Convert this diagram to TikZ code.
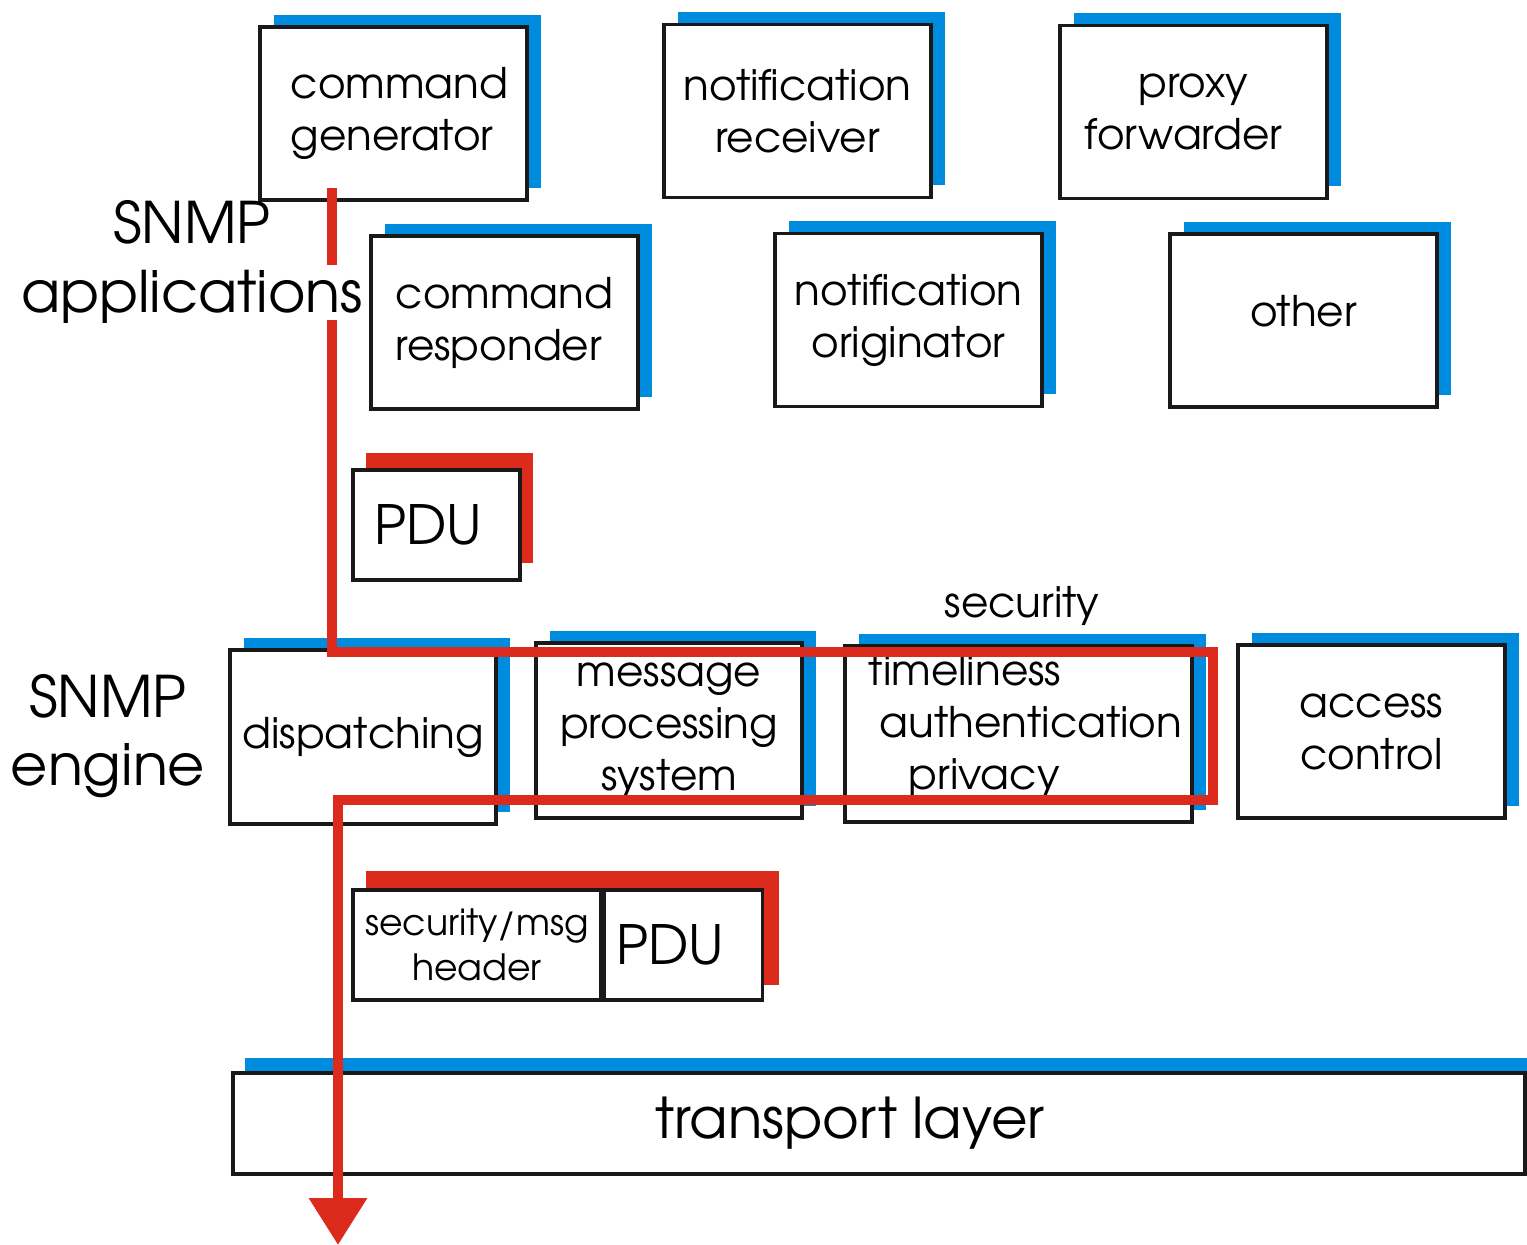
\documentclass[tikz,border=0pt]{standalone}
\usepackage{fontspec}
\setmainfont{TeX Gyre Adventor}
\usetikzlibrary{shadows,arrows.meta,backgrounds}
\definecolor{snmpblue}{RGB}{0,140,222}
\definecolor{snmpred}{RGB}{220,42,28}
\begin{document}
\begin{tikzpicture}[
    box/.style={draw=black!90, line width=1pt, fill=white, inner sep=0pt,
        minimum width=2.67cm, minimum height=1.73cm, align=center,
        font=\fontsize{12}{14.8}\selectfont,
        copy shadow={shadow xshift=0.14cm, shadow yshift=0.12cm, fill=snmpblue, draw=none}},
    pdubox/.style={draw=black!90, line width=1pt, fill=white, inner sep=0pt,
        minimum height=1.1cm, font=\fontsize{15.4}{17}\selectfont},
    flow/.style={snmpred, line width=2.8pt},
    biglabel/.style={font=\fontsize{16.3}{19.4}\selectfont, align=center}
]
\useasboundingbox (0,0) rectangle (15.27,-12.45);
% applications
\node[box, align=left] (cmdgen) at (3.935,-1.135) {\hspace*{0.12cm}command\\\hspace*{0.12cm}generator};
\node[box] (notifrecv) at (7.975,-1.11) {notification\\receiver};
\node[box] (proxy) at (11.935,-1.12) {proxy\\forwarder\hspace*{0.2cm}};
\node[box, align=left] (cmdresp) at (5.045,-3.225) {command\\responder};
\node[box] (notiforig) at (9.085,-3.2) {notification\\originator};
\node[box] (other) at (13.035,-3.205) {\raisebox{0.2cm}{other}};
\node[biglabel] (apps) at (1.92,-2.62) {SNMP\\applications};
% PDU handed down
\node[pdubox, minimum width=1.67cm,
    copy shadow={shadow xshift=0.13cm, shadow yshift=0.17cm, fill=snmpred, draw=none}] (pdu) at (4.365,-5.25) {PDU\hspace*{0.16cm}};
% engine
\node[biglabel] (engine) at (1.08,-7.36) {SNMP\\engine};
\node[box, minimum width=2.66cm, minimum height=1.74cm] (dispatch) at (3.63,-7.37) {dispatching};
\node[box, minimum width=2.66cm, minimum height=1.75cm] (msgproc) at (6.69,-7.305) {message\\processing\\system};
\node[box, minimum width=3.47cm, minimum height=1.76cm,
    label={[align=left, xshift=0.07cm, yshift=0.08cm, font=\fontsize{12}{14.8}\selectfont]center:timeliness\\\hspace*{0.11cm}authentication\\\hspace*{0.4cm}privacy}] (secbox) at (10.185,-7.34) {};
\node[font=\fontsize{12}{14.8}\selectfont] (seclabel) at (10.22,-6.06) {security};
\node[box] (access) at (13.715,-7.315) {access\\control};
% message with header
\node[pdubox, minimum width=2.48cm, align=center, font=\fontsize{10.3}{12.8}\selectfont] (hdr) at (4.77,-9.45) {security/msg\\header};
\node[pdubox, minimum width=1.58cm, anchor=west] (pdutwo) at (hdr.east) {PDU\hspace*{0.26cm}};
\begin{scope}[on background layer]
    \fill[snmpred] ([shift={(0.15,0.17)}]hdr.south west) rectangle ([shift={(0.15,0.17)}]pdutwo.north east);
\end{scope}
% transport
\node[box, minimum width=12.92cm, minimum height=1.01cm, font=\fontsize{16}{18}\selectfont,
    copy shadow={shadow xshift=0.12cm, shadow yshift=0.15cm, fill=snmpblue, draw=none}] (transport) at (8.79,-11.235) {transport layer\hspace*{0.58cm}};
% flow
\coordinate (f1) at (3.32,-1.88);
\coordinate (f2) at (3.32,-2.65);
\coordinate (f3) at (3.32,-3.20);
\coordinate (f4) at (3.32,-6.52);
\coordinate (f5) at (12.13,-6.52);
\coordinate (f6) at (12.13,-8.00);
\coordinate (f7) at (3.38,-8.00);
\coordinate (f8) at (3.38,-12.45);
\draw[flow] (f1) -- (f2);
\draw[flow, -{Triangle[width=0.56cm,length=0.47cm]}] (f3) -- (f4) -- (f5) -- (f6) -- (f7) -- (f8);
\end{tikzpicture}
\end{document}
